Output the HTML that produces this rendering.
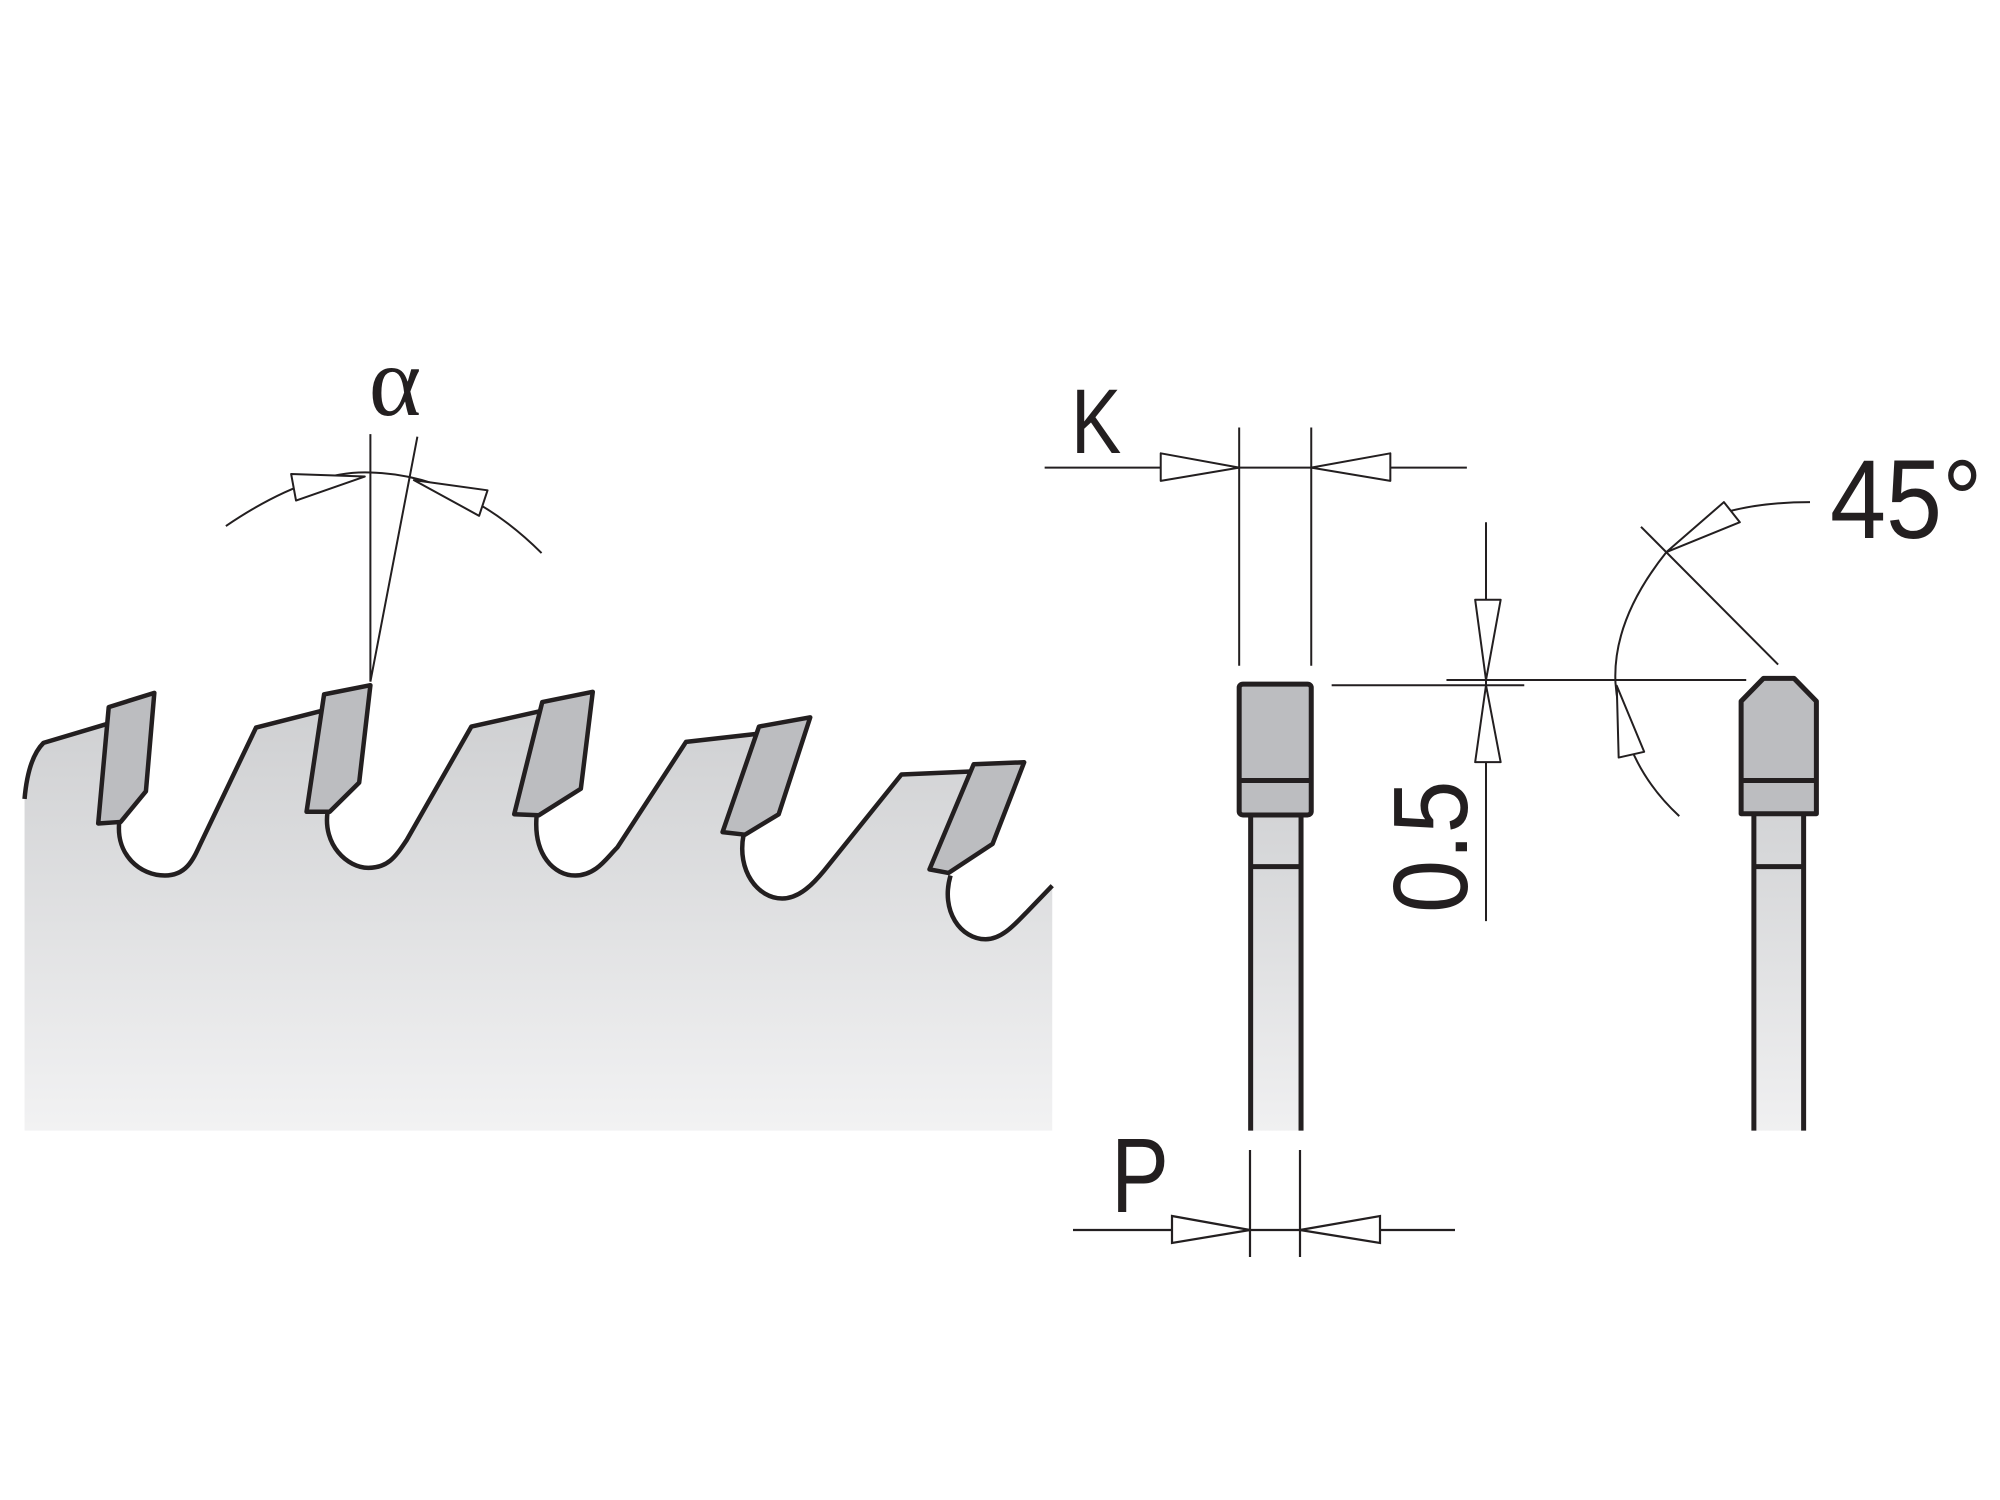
<!DOCTYPE html>
<html><head><meta charset="utf-8"><style>
html,body{margin:0;padding:0;background:#fff;width:2000px;height:1500px;overflow:hidden}
svg{display:block}
text{font-family:"Liberation Sans",sans-serif;fill:#231f20}
</style></head><body>
<svg width="2000" height="1500" viewBox="0 0 2000 1500" xmlns="http://www.w3.org/2000/svg">
<defs>
<linearGradient id="bg" x1="0" y1="0" x2="0" y2="1">
<stop offset="0" stop-color="#cfd0d2"/><stop offset="1" stop-color="#f2f2f3"/>
</linearGradient>
<linearGradient id="sh" x1="0" y1="0" x2="0" y2="1">
<stop offset="0" stop-color="#d3d4d6"/><stop offset="1" stop-color="#f0f0f1"/>
</linearGradient>
</defs>

<g transform="translate(0,350) scale(0.7015,0.5102)" stroke="#231f20" stroke-linejoin="round">
<path fill="url(#bg)" stroke="none" d="M35,1530 L35,880 Q40,800 62,770 L155,732 L140,928 L170,925 C165,990 200,1030 235,1030 C265,1030 275,1000 285,970 L365,740 L465,705 L437,905 L467,905 C460,970 495,1015 525,1015 C555,1015 565,990 580,960 L672,738 L770,708 L733,910 L765,912 C760,990 790,1030 820,1030 C850,1030 865,995 880,975 L978,768 L1082,752 L1030,945 L1060,950 C1050,1020 1080,1075 1115,1075 C1140,1075 1160,1045 1175,1020 L1285,832 L1388,826 L1325,1018 L1355,1030 C1340,1100 1370,1155 1405,1155 C1430,1155 1450,1120 1465,1100 L1500,1050 L1500,1530 Z"/>
<path fill="none" stroke-width="4.5" vector-effect="non-scaling-stroke" d="M35,880 Q40,800 62,770 L155,732 M170,925 C165,990 200,1030 235,1030 C265,1030 275,1000 285,970 L365,740 L465,705 M467,905 C460,970 495,1015 525,1015 C555,1015 565,990 580,960 L672,738 L770,708 M765,912 C760,990 790,1030 820,1030 C850,1030 865,995 880,975 L978,768 L1082,752 M1060,950 C1050,1020 1080,1075 1115,1075 C1140,1075 1160,1045 1175,1020 L1285,832 L1388,826 M1355,1030 C1340,1100 1370,1155 1405,1155 C1430,1155 1450,1120 1465,1100 L1500,1050"/>
<g fill="#bcbdc0" stroke-width="4.5">
<path vector-effect="non-scaling-stroke" d="M155,700 L220,672 L208,865 L172,925 L140,928 Z"/>
<path vector-effect="non-scaling-stroke" d="M462,675 L528,657 L512,848 L470,905 L437,905 Z"/>
<path vector-effect="non-scaling-stroke" d="M773,690 L845,670 L828,860 L768,912 L733,910 Z"/>
<path vector-effect="non-scaling-stroke" d="M1082,738 L1155,720 L1110,910 L1062,950 L1030,945 Z"/>
<path vector-effect="non-scaling-stroke" d="M1388,812 L1460,808 L1415,968 L1352,1025 L1325,1018 Z"/>
</g>
<g fill="none" stroke-width="2">
<path vector-effect="non-scaling-stroke" d="M528,165 L528,650 M595,170 L528,650"/>
<path vector-effect="non-scaling-stroke" d="M322,345 Q440,235 528,240 Q660,245 772,398"/>
<path fill="#fff" vector-effect="non-scaling-stroke" d="M415,243 L422,295 L520,248 Z"/>
<path fill="#fff" vector-effect="non-scaling-stroke" d="M695,275 L683,325 L590,255 Z"/>
</g>
</g>
<text x="395" y="415" text-anchor="middle" style="font-family:'Liberation Serif',serif;font-size:100px">α</text>

<g transform="translate(1000,350) scale(0.6378,0.5740)" stroke="#231f20" stroke-linejoin="round">
<g fill="none" stroke-width="2">
<path vector-effect="non-scaling-stroke" d="M70,205 L732,205 M375,135 L375,550 M488,135 L488,550"/>
<path fill="#fff" vector-effect="non-scaling-stroke" d="M252,180 L252,228 L375,205 Z"/>
<path fill="#fff" vector-effect="non-scaling-stroke" d="M612,180 L612,228 L488,205 Z"/>
<path vector-effect="non-scaling-stroke" d="M520,584 L822,584 M700,575 L1170,575 M762,300 L762,995"/>
<path fill="#fff" vector-effect="non-scaling-stroke" d="M745,435 L785,435 L762,575 Z"/>
<path fill="#fff" vector-effect="non-scaling-stroke" d="M745,718 L785,718 L762,584 Z"/>
<path vector-effect="non-scaling-stroke" d="M1005,308 L1220,548"/>
<path vector-effect="non-scaling-stroke" d="M1045,352 Q960,470 965,580 Q975,720 1065,812"/>
<path vector-effect="non-scaling-stroke" d="M1130,285 Q1190,265 1270,265"/>
<path fill="#fff" vector-effect="non-scaling-stroke" d="M1135,265 L1160,300 L1045,352 Z"/>
<path fill="#fff" vector-effect="non-scaling-stroke" d="M970,710 L1010,700 L967,585 Z"/>
</g>
<rect x="393" y="810" width="79" height="550" fill="url(#sh)" stroke="none"/>
<path fill="none" stroke-width="5" vector-effect="non-scaling-stroke" d="M393,810 L393,1360 M472,810 L472,1360 M393,900 L472,900"/>
<rect x="375" y="582" width="113" height="228" rx="6" fill="#bcbdc0" stroke-width="5" vector-effect="non-scaling-stroke"/>
<path stroke-width="5" vector-effect="non-scaling-stroke" d="M375,750 L488,750"/>
<rect x="1182" y="808" width="78" height="552" fill="url(#sh)" stroke="none"/>
<path fill="none" stroke-width="5" vector-effect="non-scaling-stroke" d="M1182,808 L1182,1360 M1260,808 L1260,1360 M1182,900 L1260,900"/>
<path fill="#bcbdc0" stroke-width="5" vector-effect="non-scaling-stroke" d="M1162,612 L1197,572 L1245,572 L1280,612 L1280,808 L1162,808 Z"/>
<path stroke-width="5" vector-effect="non-scaling-stroke" d="M1162,750 L1280,750"/>
</g>
<g stroke="#231f20" stroke-width="2.2" fill="none">
<path d="M1073,1230 L1455,1230 M1250,1150 L1250,1257 M1300,1150 L1300,1257"/>
<path fill="#fff" d="M1172,1216 L1172,1243 L1250,1230 Z"/>
<path fill="#fff" d="M1380,1216 L1380,1243 L1300,1230 Z"/>
</g>

<text x="1071" y="453" style="font-size:92px" transform="translate(1071,453) scale(0.82,1) translate(-1071,-453)">K</text>
<text x="1111" y="1212" style="font-size:106px" transform="translate(1111,1212) scale(0.82,1) translate(-1111,-1212)">P</text>
<text x="1830" y="538" style="font-size:112px" transform="translate(1830,538) scale(0.9,1) translate(-1830,-538)">45°</text>
<text transform="translate(1467,913) rotate(-90) scale(0.9,1)" x="0" y="0" style="font-size:106px">0.5</text>
</svg>
</body></html>
